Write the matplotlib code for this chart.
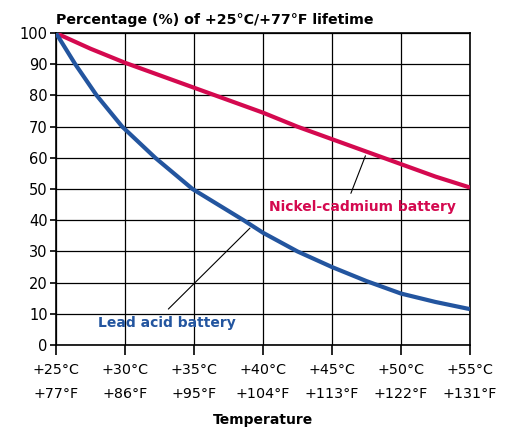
import matplotlib.pyplot as plt
import numpy as np

# nickel-cadmium readings
nicad_c = [25, 27.5, 30, 32.5, 35, 37.5, 40, 42.5, 45, 47.5, 50, 52.5, 55]
nicad = [100, 95, 90.5, 86.5, 82.5, 78.5, 74.5, 70, 66, 62, 58, 54, 50.5]

# lead acid readings
lead_c = [25, 26.4, 27.95, 29.8, 32.2, 34.9, 38.6, 40, 42.5, 45, 47.5, 50, 52.5, 55]
lead_acid = [100, 90, 80, 70, 60, 50, 40, 36, 30, 25, 20.5, 16.5, 13.8, 11.5]

tick_c = [25, 30, 35, 40, 45, 50, 55]
tick_labels = ["+25°C\n+77°F", "+30°C\n+86°F", "+35°C\n+95°F", "+40°C\n+104°F",
               "+45°C\n+113°F", "+50°C\n+122°F", "+55°C\n+131°F"]

red = "#d4094f"
blue = "#23559f"

fig = plt.figure(figsize=(5.11, 4.29), dpi=100)
ax = fig.add_axes([0.1096, 0.1958, 0.810, 0.727])

ax.plot(nicad_c, nicad, color=red, lw=3.0, solid_capstyle="butt",
        solid_joinstyle="round", zorder=3)
ax.plot(lead_c, lead_acid, color=blue, lw=3.0, solid_capstyle="butt",
        solid_joinstyle="round", zorder=3)

ax.set_xlim(25, 55)
ax.set_ylim(0, 100)
ax.set_xticks(tick_c)
ax.set_xticklabels(tick_labels, linespacing=1.9)
ax.set_yticks(np.arange(0, 101, 10))
ax.grid(True, color="black", lw=0.9)
for s in ax.spines.values():
    s.set_linewidth(1.2)
ax.tick_params(axis="x", length=7, width=1.2, pad=6, labelsize=10.3)
ax.tick_params(axis="y", length=4, width=1.2, pad=2, labelsize=10.5)

ax.set_xlabel("Temperature", fontweight="bold", fontsize=10, labelpad=9)
ax.text(0, 1.02, "Percentage (%) of +25°C/+77°F lifetime", transform=ax.transAxes,
        fontweight="bold", fontsize=10.2, ha="left", va="bottom")

ax.annotate("", xy=(47.5, 61.5), xytext=(46.3, 47.8),
            arrowprops=dict(arrowstyle="-", color="black", lw=0.8))
ax.text(47.2, 44.2, "Nickel-cadmium battery", color=red, fontweight="bold",
        fontsize=10, ha="center", va="center")
ax.annotate("", xy=(39.2, 38.1), xytext=(33.0, 10.9),
            arrowprops=dict(arrowstyle="-", color="black", lw=0.8))
ax.text(33.0, 7, "Lead acid battery", color=blue, fontweight="bold",
        fontsize=10, ha="center", va="center")

fig.savefig("out.png", dpi=100)
